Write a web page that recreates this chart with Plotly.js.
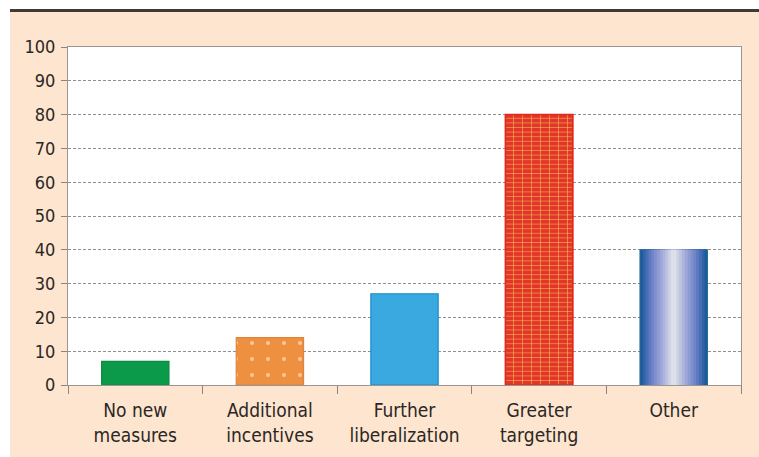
<!DOCTYPE html>
<html>
<head>
<meta charset="utf-8">
<script src="https://cdn.plot.ly/plotly-3.0.1.min.js"></script>
<style>html,body{margin:0;padding:0;background:#fff;}#chart{width:759px;height:457px;}</style>
</head>
<body>
<div id="chart"></div>
<script>
// ---- data ----
const categories = ["No new<br>measures", "Additional<br>incentives", "Further<br>liberalization", "Greater<br>targeting", "Other"];
const values = [7, 14, 27, 80, 40];
const yTicks = [0, 10, 20, 30, 40, 50, 60, 70, 80, 90, 100];

// ---- styles ----
const font = "'DejaVu Sans Condensed', 'Liberation Sans Narrow', sans-serif";
const textColor = "#2b2724";

const barStyles = [
  {color: "#0b9a4a", line: "#0a8a40", pattern: null},
  {color: "#ef9040", line: "#e0843a", pattern: {shape: ".", fgcolor: "#ffffff", size: 16, solidity: 0.05, fillmode: "overlay"}},
  {color: "#3aa9e0", line: "#1b8ccc", pattern: null},
  {color: "#e3362a", line: "#e02a20", pattern: {shape: "-", fgcolor: "#f6cf5a", size: 4.6, solidity: 0.2, fillmode: "overlay"}},
  {color: "#2a62a6", line: "#1e6a8a", pattern: null}
];

const traces = [];
categories.forEach((c, i) => {
  const st = barStyles[i];
  const m = {color: st.color, line: {color: st.line, width: 1.2}};
  if (st.pattern) m.pattern = st.pattern;
  traces.push({type: "bar", x: [c], y: [values[i]], width: 0.5, marker: m, hoverinfo: "x+y", showlegend: false});
});

// vertical brick joints for "Greater targeting"
traces.push({
  type: "bar", x: [categories[3]], y: [values[3]], width: 0.5,
  marker: {color: "rgba(0,0,0,0)", line: {width: 0},
    pattern: {shape: "|", fgcolor: "#f6cf5a", size: 9, solidity: 0.11, fillmode: "overlay"}},
  hoverinfo: "skip", showlegend: false
});
// red outline on top of brick pattern
traces.push({
  type: "bar", x: [categories[3]], y: [values[3]], width: 0.5,
  marker: {color: "rgba(0,0,0,0)", line: {color: "#e02a20", width: 1.5}},
  hoverinfo: "skip", showlegend: false
});

// gradient for "Other" bar, built with nested overlay bars
const gradStops = [[0, [29, 90, 158]], [0.35, [111, 130, 200]], [0.7, [167, 174, 219]], [1, [221, 224, 232]]];
function gradColor(t) {
  for (let i = 1; i < gradStops.length; i++) {
    if (t <= gradStops[i][0]) {
      const a = gradStops[i - 1], b = gradStops[i];
      const f = (t - a[0]) / (b[0] - a[0]);
      const c = a[1].map((v, k) => Math.round(v + (b[1][k] - v) * f));
      return "rgb(" + c.join(",") + ")";
    }
  }
  return "rgb(221,224,232)";
}
const N = 12;
for (let i = 0; i < N; i++) {
  traces.push({
    type: "bar",
    x: [categories[4]],
    y: [values[4]],
    width: 0.5 * (1 - i / N) - (i === 0 ? 0.008 : 0),
    marker: {color: gradColor(i / (N - 1)), line: {width: 0}},
    hoverinfo: "skip",
    showlegend: false
  });
}

const pxX = v => (v - 68) / 673;   // helper for decorative paper shapes
const pxY = v => (385 - v) / 338;

const layout = {
  width: 759, height: 457,
  margin: {l: 68, r: 18, t: 47, b: 72},
  paper_bgcolor: "#fde5d0",
  plot_bgcolor: "#ffffff",
  barmode: "overlay",
  font: {family: font, size: 17, color: textColor},
  xaxis: {
    type: "category",
    tickson: "boundaries",
    ticks: "outside", ticklen: 8, tickcolor: "#8a8580", tickwidth: 1,
    showline: true, linecolor: "#9a9590", linewidth: 1, mirror: true,
    showgrid: false,
    tickfont: {family: font, size: 19, color: textColor},
    ticklabelstandoff: 8,
    fixedrange: true
  },
  yaxis: {
    range: [0, 100],
    tickvals: yTicks,
    ticks: "outside", ticklen: 6, tickcolor: "#8a8580",
    showline: true, linecolor: "#9a9590", linewidth: 1, mirror: true,
    showgrid: true, gridcolor: "#8f8f8f", griddash: "3px,2px", gridwidth: 1,
    zeroline: false,
    tickfont: {family: font, size: 18, color: textColor},
    ticklabelstandoff: 2,
    fixedrange: true
  },
  shapes: [
    {type: "rect", xref: "paper", yref: "paper", x0: pxX(0), x1: pxX(10), y0: pxY(457), y1: pxY(0), fillcolor: "#ffffff", line: {width: 0}, layer: "below"},
    {type: "rect", xref: "paper", yref: "paper", x0: pxX(0), x1: pxX(759), y0: pxY(9), y1: pxY(0), fillcolor: "#ffffff", line: {width: 0}, layer: "below"},
    {type: "rect", xref: "paper", yref: "paper", x0: pxX(10), x1: pxX(759), y0: pxY(12), y1: pxY(9), fillcolor: "#3f3a35", line: {width: 0}, layer: "below"}
  ]
};

Plotly.newPlot("chart", traces, layout, {displayModeBar: false, staticPlot: true});
</script>
</body>
</html>
